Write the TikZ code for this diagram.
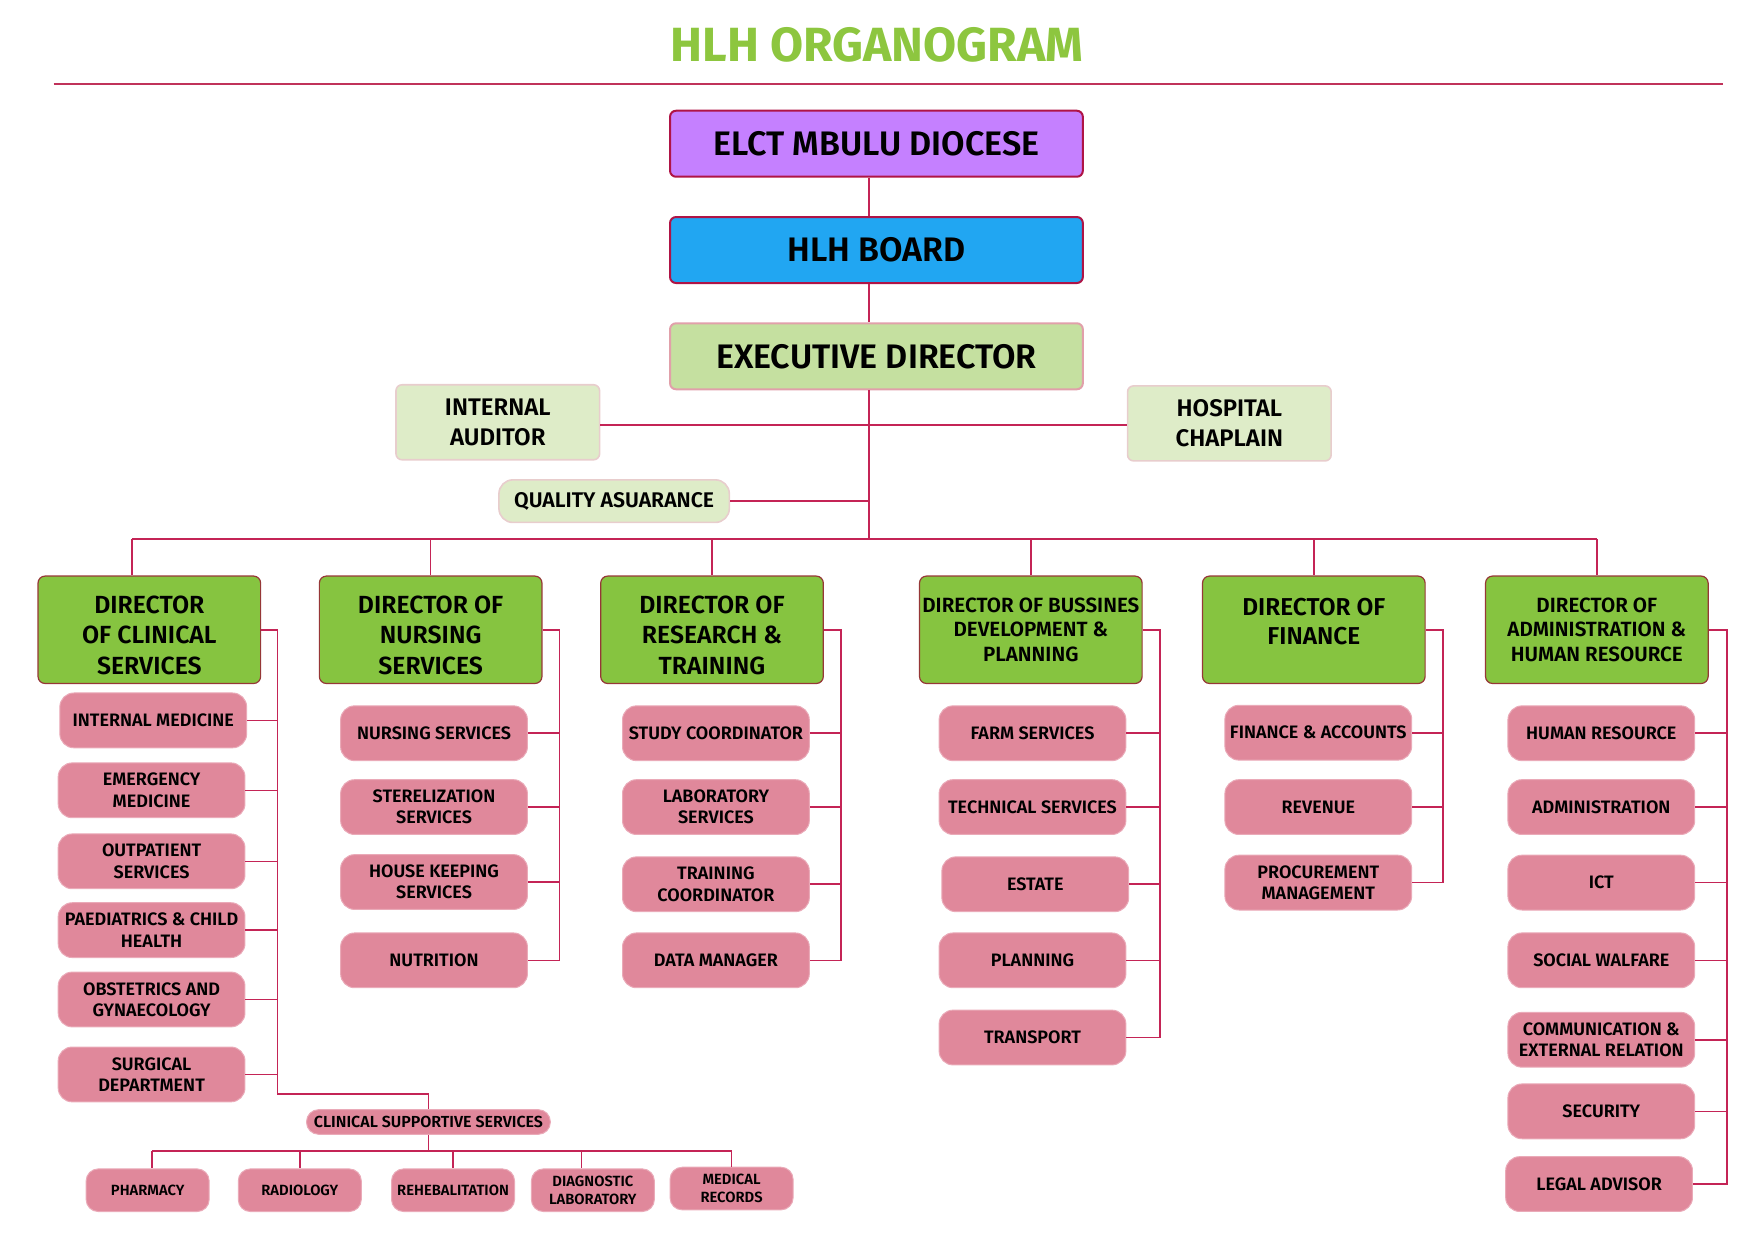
\documentclass[tikz,border=0pt]{standalone}
\usepackage{fontspec}
\setmainfont{Fira Sans SemiBold}[BoldFont={Fira Sans Bold}]
\definecolor{titlegreen}{RGB}{141,198,63}
\definecolor{rulec}{RGB}{192,50,90}
\definecolor{connc}{RGB}{196,36,86}
\definecolor{violetc}{RGB}{197,128,255}
\definecolor{bluec}{RGB}{33,166,242}
\definecolor{crimc}{RGB}{175,20,70}
\definecolor{execfill}{RGB}{197,224,160}
\definecolor{execdraw}{RGB}{225,160,170}
\definecolor{auxfill}{RGB}{222,236,200}
\definecolor{auxdraw}{RGB}{232,205,205}
\definecolor{dirfill}{RGB}{134,196,64}
\definecolor{dirdraw}{RGB}{150,55,55}
\definecolor{subfill}{RGB}{224,136,155}
\definecolor{subdraw}{RGB}{234,170,184}
\newcommand{\dirlow}{\rule{0pt}{14.4pt}}
\begin{document}
\begin{tikzpicture}[x=0.5593pt,y=-0.5593pt,
  every node/.style={align=center, inner sep=0pt, text=black},
  topbox/.style={draw, line width=1pt, rounded corners=3pt, minimum width=206.4pt, minimum height=33pt,
     font=\fontsize{17}{20}\selectfont},
  auxbox/.style={draw=auxdraw, fill=auxfill, line width=0.8pt, rounded corners=3pt,
     font=\fontsize{12}{15}\selectfont},
  dirbox/.style={draw=dirdraw, fill=dirfill, line width=0.6pt, rounded corners=3.5pt,
     minimum width=111.3pt, minimum height=53.7pt, font=\fontsize{12.4}{15.2}\selectfont},
  dirsmall/.style={font=\fontsize{10.3}{12.3}\selectfont},
  subbox/.style={draw=subdraw, fill=subfill, line width=0.5pt, rounded corners=7pt,
     minimum width=93.4pt, minimum height=27.4pt, font=\fontsize{9}{10.6}\selectfont},
  kidbox/.style={draw=subdraw, fill=subfill, line width=0.5pt, rounded corners=6pt,
     minimum width=61.5pt, minimum height=21.3pt, font=\fontsize{7.4}{9}\selectfont},
  conn/.style={draw=connc, line width=0.8pt}
]
\path[use as bounding box] (0,0) rectangle (1568,1109);

% title
\node[text=titlegreen, font=\fontsize{24}{28}\selectfont\bfseries] (title) at (784,40) {HLH ORGANOGRAM};
\coordinate (ruleL) at (48,75);
\coordinate (ruleR) at (1540,75);
\draw[rulec, line width=0.9pt] (ruleL) -- (ruleR);

% top chain
\node[topbox, fill=violetc, draw=crimc] (elct) at (783.5,128.5) {ELCT MBULU DIOCESE};
\node[topbox, fill=bluec, draw=crimc] (board) at (783.5,223.5) {HLH BOARD};
\node[topbox, fill=execfill, draw=execdraw] (exec) at (783.5,318.5) {EXECUTIVE DIRECTOR};
\node[auxbox, minimum width=101.8pt, minimum height=37.5pt] (audit) at (445,377.5) {INTERNAL\\AUDITOR};
\node[auxbox, minimum width=101.8pt, minimum height=37.5pt] (chap) at (1099,378.5) {HOSPITAL\\CHAPLAIN};
\node[auxbox, minimum width=115.2pt, minimum height=21.3pt, rounded corners=7pt,
      font=\fontsize{10.6}{12}\selectfont] (qa) at (549,448) {QUALITY ASUARANCE};

\coordinate (tr) at (777,348);
\coordinate (bus) at (777,482);
\draw[conn] (elct.south -| tr) -- (board.north -| tr);
\draw[conn] (board.south -| tr) -- (exec.north -| tr);
\draw[conn] (exec.south -| tr) -- (bus);
\draw[conn] (audit.east |- 0,380) -- (chap.west |- 0,380);
\draw[conn] (qa.east) -- (qa.east -| tr);

% directors
\node[dirbox] (dclin) at (133.5,563) {\dirlow DIRECTOR\\OF CLINICAL\\SERVICES};
\node[dirbox] (dnurs) at (385,563) {\dirlow DIRECTOR OF\\NURSING\\SERVICES};
\node[dirbox] (dres) at (636.5,563) {\dirlow DIRECTOR OF\\RESEARCH \&\\TRAINING};
\node[dirbox, dirsmall] (dbus) at (921.5,563) {DIRECTOR OF BUSSINES\\DEVELOPMENT \&\\PLANNING};
\node[dirbox, font=\fontsize{12.2}{14.2}\selectfont] (dfin) at (1174.5,563) {\dirlow DIRECTOR OF\\FINANCE\\\mbox{}};
\node[dirbox, dirsmall] (dadm) at (1427.5,563) {DIRECTOR OF\\ADMINISTRATION \&\\HUMAN RESOURCE};

\coordinate (dropclin) at ([xshift=-8.7pt]dclin.north);
\draw[conn] (dropclin |- bus) -- (dadm.north |- bus);
\draw[conn] (dropclin |- bus) -- (dropclin);
\foreach \d in {dnurs,dres,dbus,dfin,dadm}{
  \draw[conn] (\d.north |- bus) -- (\d.north);
}

% clinical services
\node[subbox] (c1) at (137,644) {INTERNAL MEDICINE};
\node[subbox] (c2) at (135.5,706.5) {EMERGENCY\\MEDICINE};
\node[subbox] (c3) at (135.5,770) {OUTPATIENT\\SERVICES};
\node[subbox] (c4) at (135.5,831.5) {PAEDIATRICS \& CHILD\\HEALTH};
\node[subbox] (c5) at (135.5,893.5) {OBSTETRICS AND\\GYNAECOLOGY};
\node[subbox] (c6) at (135.5,960.5) {SURGICAL\\DEPARTMENT};
\coordinate (bclin) at (248,563);
\coordinate (cssj) at (383,978);
\node[kidbox, minimum width=121.9pt, minimum height=12.3pt, rounded corners=6pt,
      font=\fontsize{8}{9}\selectfont] (css) at (383,1003) {CLINICAL SUPPORTIVE SERVICES};
\draw[conn] (dclin.east) -- (bclin) -- (bclin |- cssj) -- (cssj) -- (css.north);
\foreach \c in {c1,c2,c3,c4,c5,c6}{
  \draw[conn] (\c.east) -- (\c.east -| bclin);
}

% clinical supportive children
\node[kidbox] (k1) at (132,1064) {PHARMACY};
\node[kidbox] (k2) at (268,1064) {RADIOLOGY};
\node[kidbox] (k3) at (405,1064) {REHEBALITATION};
\node[kidbox] (k4) at (530,1064) {DIAGNOSTIC\\LABORATORY};
\node[kidbox] (k5) at (654,1062.5) {MEDICAL\\RECORDS};
\coordinate (kbus) at (383,1029);
\coordinate (kd1) at ([xshift=2.2pt]k1.north);
\coordinate (kd4) at ([xshift=-5.6pt]k4.north);
\draw[conn] (css.south) -- (kbus);
\draw[conn] (kd1 |- kbus) -- (k5.north |- kbus);
\draw[conn] (kd1 |- kbus) -- (kd1);
\draw[conn] (k2.north |- kbus) -- (k2.north);
\draw[conn] (k3.north |- kbus) -- (k3.north);
\draw[conn] (kd4 |- kbus) -- (kd4);
\draw[conn] (k5.north |- kbus) -- (k5.north);

% nursing
\node[subbox] (n1) at (388,655.5) {NURSING SERVICES};
\node[subbox] (n2) at (388,721.5) {STERELIZATION\\SERVICES};
\node[subbox] (n3) at (388,788.5) {HOUSE KEEPING\\SERVICES};
\node[subbox] (n4) at (388,858.5) {NUTRITION};
\coordinate (bnurs) at (500,563);
\draw[conn] (dnurs.east) -- (bnurs) -- (bnurs |- n4.east) -- (n4.east);
\foreach \c in {n1,n2,n3}{ \draw[conn] (\c.east) -- (\c.east -| bnurs); }

% research
\node[subbox] (r1) at (640,655.5) {STUDY COORDINATOR};
\node[subbox] (r2) at (640,721.5) {LABORATORY\\SERVICES};
\node[subbox] (r3) at (640,790.5) {TRAINING\\COORDINATOR};
\node[subbox] (r4) at (640,858.5) {DATA MANAGER};
\coordinate (bres) at (752,563);
\draw[conn] (dres.east) -- (bres) -- (bres |- r4.east) -- (r4.east);
\foreach \c in {r1,r2,r3}{ \draw[conn] (\c.east) -- (\c.east -| bres); }

% business
\node[subbox] (b1) at (923,655.5) {FARM SERVICES};
\node[subbox] (b2) at (923,721.5) {TECHNICAL SERVICES};
\node[subbox] (b3) at (925.5,790.5) {ESTATE};
\node[subbox] (b4) at (923,858.5) {PLANNING};
\node[subbox] (b5) at (923,927.5) {TRANSPORT};
\coordinate (bbus) at (1037,563);
\draw[conn] (dbus.east) -- (bbus) -- (bbus |- b5.east) -- (b5.east);
\foreach \c in {b1,b2,b3,b4}{ \draw[conn] (\c.east) -- (\c.east -| bbus); }

% finance
\node[subbox] (f1) at (1178.5,655) {FINANCE \& ACCOUNTS};
\node[subbox] (f2) at (1178.5,721.5) {REVENUE};
\node[subbox] (f3) at (1178.5,789) {PROCUREMENT\\MANAGEMENT};
\coordinate (bfin) at (1290,563);
\draw[conn] (dfin.east) -- (bfin) -- (bfin |- f3.east) -- (f3.east);
\foreach \c in {f1,f2}{ \draw[conn] (\c.east) -- (\c.east -| bfin); }

% administration
\node[subbox] (a1) at (1431.5,655.5) {HUMAN RESOURCE};
\node[subbox] (a2) at (1431.5,721.5) {ADMINISTRATION};
\node[subbox] (a3) at (1431.5,789) {ICT};
\node[subbox] (a4) at (1431.5,858.5) {SOCIAL WALFARE};
\node[subbox] (a5) at (1431.5,929.5) {COMMUNICATION \&\\EXTERNAL RELATION};
\node[subbox] (a6) at (1431.5,993.5) {SECURITY};
\node[subbox] (a7) at (1429.5,1058.5) {LEGAL ADVISOR};
\coordinate (badm) at (1544,563);
\draw[conn] (dadm.east) -- (badm) -- (badm |- a7.east) -- (a7.east);
\foreach \c in {a1,a2,a3,a4,a5,a6}{ \draw[conn] (\c.east) -- (\c.east -| badm); }
\end{tikzpicture}
\end{document}
